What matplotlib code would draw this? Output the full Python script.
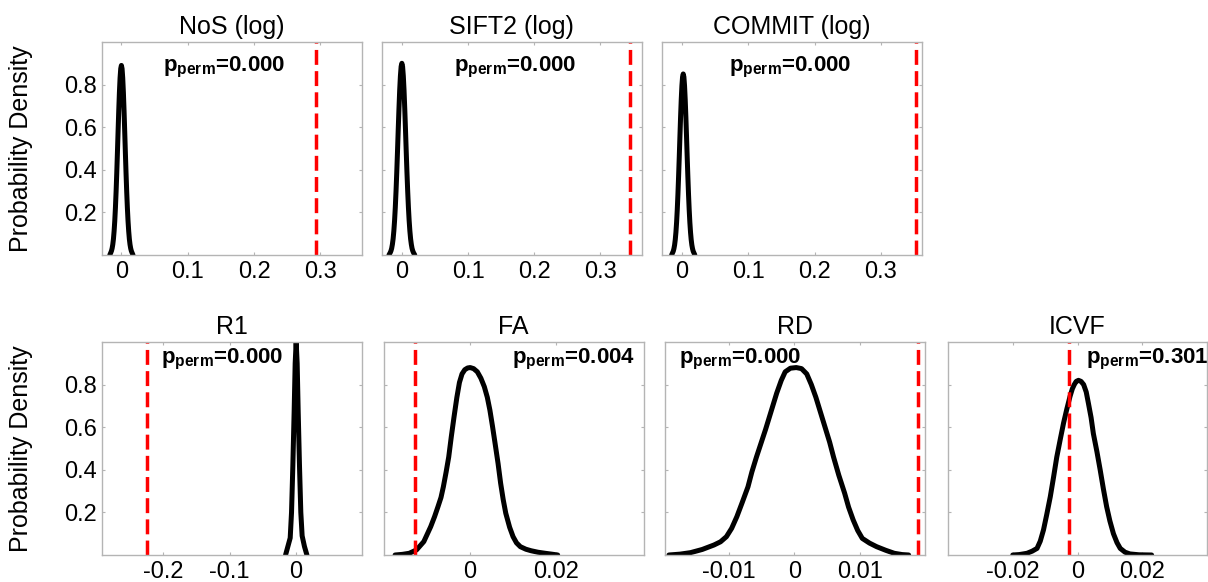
import matplotlib
matplotlib.use("Agg")
import matplotlib.pyplot as plt
from matplotlib.ticker import FuncFormatter

plt.rcParams["font.family"] = "Liberation Sans"
plt.rcParams["mathtext.fontset"] = "custom"
plt.rcParams["mathtext.rm"] = "Liberation Sans"
plt.rcParams["mathtext.bf"] = "Liberation Sans:bold"

titles = ["NoS (log)", "SIFT2 (log)", "COMMIT (log)", "R1", "FA", "RD", "ICVF"]
observed = [0.294, 0.344, 0.353, -0.224, -0.0128, 0.0189, -0.0025]
p_perm = [0.000, 0.000, 0.000, 0.000, 0.004, 0.000, 0.301]

# null distributions (kernel density of the permuted statistic)
nos_x = [-0.0175, -0.016, -0.015, -0.014, -0.013, -0.012, -0.011, -0.01, -0.009, -0.008,
         -0.007, -0.006, -0.005, -0.004, -0.003, -0.002, -0.001, 0.0,
         0.001, 0.002, 0.003, 0.004, 0.005, 0.006, 0.007, 0.008, 0.009, 0.01,
         0.011, 0.012, 0.013, 0.014, 0.015, 0.016, 0.0175]
nos_y = [0.0, 0.011, 0.019, 0.031, 0.049, 0.075, 0.112, 0.16, 0.222, 0.297,
         0.384, 0.48, 0.58, 0.677, 0.763, 0.831, 0.875, 0.89,
         0.875, 0.831, 0.763, 0.677, 0.58, 0.48, 0.384, 0.297, 0.222, 0.16,
         0.112, 0.075, 0.049, 0.031, 0.019, 0.011, 0.0]

sift_x = [-0.0195, -0.0176, -0.0165, -0.0154, -0.0143, -0.0132, -0.0121, -0.011, -0.0099, -0.0088,
          -0.0077, -0.0066, -0.0055, -0.0044, -0.0033, -0.0022, -0.0011, 0.0,
          0.0011, 0.0022, 0.0033, 0.0044, 0.0055, 0.0066, 0.0077, 0.0088, 0.0099, 0.011,
          0.0121, 0.0132, 0.0143, 0.0154, 0.0165, 0.0176, 0.0195]
sift_y = [0.0, 0.011, 0.019, 0.031, 0.05, 0.076, 0.113, 0.162, 0.224, 0.30,
          0.388, 0.485, 0.587, 0.685, 0.772, 0.84, 0.885, 0.90,
          0.885, 0.84, 0.772, 0.685, 0.587, 0.485, 0.388, 0.30, 0.224, 0.162,
          0.113, 0.076, 0.05, 0.031, 0.019, 0.011, 0.0]

commit_x = [-0.0155, -0.014, -0.013, -0.012, -0.011, -0.01, -0.009, -0.008, -0.007, -0.006,
            -0.005, -0.004, -0.003, -0.002, -0.001, 0.0, 0.001, 0.002,
            0.003, 0.004, 0.005, 0.006, 0.007, 0.008, 0.009, 0.01, 0.011, 0.012,
            0.013, 0.014, 0.015, 0.016, 0.017, 0.018, 0.0195]
commit_y = [0.0, 0.011, 0.018, 0.03, 0.047, 0.072, 0.107, 0.153, 0.212, 0.284,
            0.367, 0.458, 0.554, 0.647, 0.729, 0.794, 0.836, 0.85,
            0.836, 0.794, 0.729, 0.647, 0.554, 0.458, 0.367, 0.284, 0.212, 0.153,
            0.107, 0.072, 0.047, 0.03, 0.018, 0.011, 0.0]

r1_x = [-0.0155, -0.012, -0.0085, -0.0065, -0.0045, -0.0025, -0.001, 0.0005,
        0.002, 0.0035, 0.0055, 0.0075, 0.0095, 0.013, 0.0167]
r1_y = [0.0, 0.04, 0.08, 0.2, 0.42, 0.68, 0.9, 1.0,
        0.9, 0.68, 0.42, 0.2, 0.09, 0.04, 0.0]

fa_x = [-0.0175, -0.0158, -0.0142, -0.0125, -0.0108, -0.0092, -0.0083, -0.0075, -0.0068,
        -0.00625, -0.0056, -0.005, -0.0044, -0.00375, -0.0031, -0.0025, -0.0019, -0.00125,
        -0.0006, 0.0, 0.0008, 0.00167, 0.0025, 0.0033, 0.004, 0.0046, 0.0052, 0.0058,
        0.0065, 0.0071, 0.0077, 0.0083, 0.0092, 0.01, 0.0108, 0.0117, 0.013, 0.0142,
        0.0158, 0.0175, 0.019, 0.0204]
fa_y = [0.0, 0.003, 0.008, 0.024, 0.063, 0.133, 0.18, 0.227, 0.27,
        0.32, 0.39, 0.46, 0.555, 0.65, 0.74, 0.81, 0.85, 0.87,
        0.878, 0.88, 0.875, 0.86, 0.83, 0.79, 0.74, 0.68, 0.605, 0.525,
        0.43, 0.337, 0.26, 0.196, 0.13, 0.086, 0.057, 0.039, 0.027, 0.02,
        0.013, 0.008, 0.004, 0.0]

rd_x = [-0.0192, -0.0175, -0.0159, -0.0141, -0.0123, -0.0113, -0.0104, -0.0096, -0.0088,
        -0.008, -0.0071, -0.0065, -0.0058, -0.0051, -0.0044, -0.0036, -0.0027, -0.002,
        -0.0014, -0.0006, 0.0003, 0.0011, 0.0019, 0.0026, 0.0033, 0.004, 0.0047, 0.0054,
        0.006, 0.0068, 0.0077, 0.0083, 0.009, 0.0097, 0.0104, 0.0115, 0.0126, 0.014,
        0.0153, 0.0165, 0.0175]
rd_y = [0.0, 0.004, 0.011, 0.026, 0.047, 0.062, 0.086, 0.125, 0.18,
        0.245, 0.32, 0.39, 0.46, 0.525, 0.59, 0.67, 0.76, 0.82,
        0.86, 0.877, 0.88, 0.875, 0.85, 0.8, 0.74, 0.67, 0.60, 0.53,
        0.46, 0.375, 0.29, 0.225, 0.165, 0.115, 0.078, 0.056, 0.039, 0.022,
        0.008, 0.002, 0.0]

icvf_x = [-0.02, -0.018, -0.0156, -0.014, -0.0125, -0.0115, -0.0105, -0.0095, -0.0084,
          -0.0074, -0.0064, -0.0053, -0.0043, -0.0033, -0.0023, -0.0016, -0.001, -0.0004,
          0.0003, 0.0011, 0.0019, 0.0027, 0.0034, 0.0042, 0.0049, 0.006, 0.007, 0.008,
          0.009, 0.01, 0.0111, 0.0122, 0.0132, 0.0147, 0.0162, 0.019, 0.0229]
icvf_y = [0.0, 0.002, 0.008, 0.018, 0.031, 0.065, 0.118, 0.19, 0.274,
          0.365, 0.46, 0.545, 0.62, 0.685, 0.745, 0.78, 0.80, 0.815,
          0.82, 0.815, 0.80, 0.765, 0.71, 0.645, 0.57, 0.485, 0.40, 0.31,
          0.227, 0.16, 0.10, 0.058, 0.031, 0.013, 0.005, 0.001, 0.0]

curves_x = [nos_x, sift_x, commit_x, r1_x, fa_x, rd_x, icvf_x]
curves_y = [nos_y, sift_y, commit_y, r1_y, fa_y, rd_y, icvf_y]

x_ticks = [[0, 0.1, 0.2, 0.3]] * 3 + [[-0.2, -0.1, 0], [0, 0.02], [-0.01, 0, 0.01], [-0.02, 0, 0.02]]
x_limits = [(-0.03, 0.362)] * 3 + [(-0.293, 0.099), (-0.0202, 0.0404), (-0.0198, 0.02), (-0.04, 0.04)]
y_ticks = [0.2, 0.4, 0.6, 0.8]

# panel boxes in pixels: left, top, width, height
W, H = 1208, 582
boxes = [(101.5, 42, 260, 213), (382, 42, 259.5, 213), (662, 42, 260, 213),
         (101.5, 342, 260, 213), (383.5, 342, 260, 213), (665, 342, 260, 213), (948, 342, 259, 213)]
text_pos = [(0.236, 0.864), (0.278, 0.864), (0.258, 0.864),
            (0.228, 0.90), (0.495, 0.90), (0.055, 0.90), (0.532, 0.90)]

frame = "#b4b4b4"
fig = plt.figure(figsize=(W / 100, H / 100), dpi=100)

for i, (left, top, w, h) in enumerate(boxes):
    ax = fig.add_axes([left / W, (H - top - h) / H, w / W, h / H])
    ax.plot(curves_x[i], curves_y[i], color="black", lw=3.6, solid_capstyle="round",
            solid_joinstyle="round")
    ax.axvline(observed[i], color="#ff0000", lw=2.5, linestyle=(0, (4.3, 1.8)))
    ax.set_xlim(*x_limits[i])
    ax.set_ylim(0, 1)
    ax.set_xticks(x_ticks[i])
    ax.xaxis.set_major_formatter(FuncFormatter(lambda v, pos: f"{v:g}"))
    ax.set_yticks(y_ticks)
    for s in ax.spines.values():
        s.set_color(frame)
        s.set_linewidth(1.0)
    ax.tick_params(direction="in", length=2.5, width=0.8, color=frame, top=True, right=True,
                   labelsize=17, labelcolor="black")
    ax.tick_params(axis="x", pad=4)
    ax.tick_params(axis="y", pad=3)
    if i in (0, 3):
        ax.yaxis.set_major_formatter(FuncFormatter(lambda v, pos: f"{v:g}"))
        ax.set_ylabel("Probability Density", fontsize=18)
        ax.yaxis.set_label_coords(-0.265, 0.5)
    else:
        ax.set_yticklabels([])
    ax.set_title(titles[i], fontsize=18, pad=6)
    tx, ty = text_pos[i]
    ax.text(tx, ty, r"$\mathbf{p_{perm}}$=%.3f" % p_perm[i], transform=ax.transAxes,
            fontsize=16, fontweight="bold", ha="left", va="baseline")

fig.savefig("out.png", dpi=100)
